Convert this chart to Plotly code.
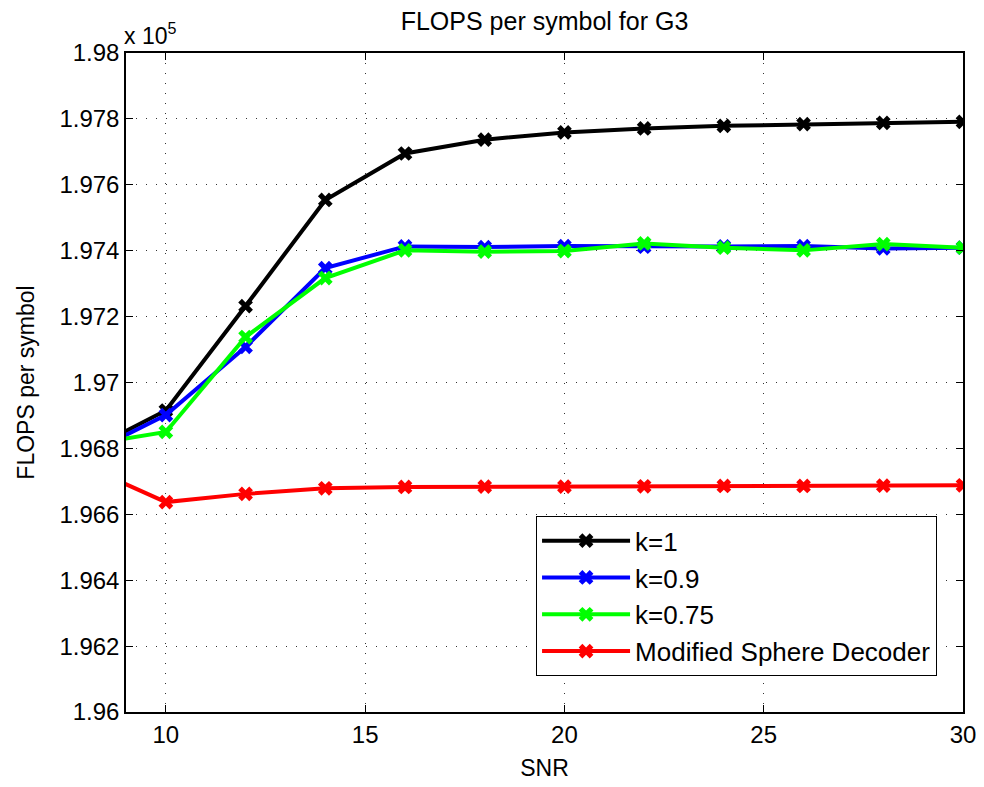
import plotly.graph_objects as go

snr = [8, 10, 12, 14, 16, 18, 20, 22, 24, 26, 28, 30]

k1 = [1.9679, 1.96915, 1.97232, 1.97554, 1.97695, 1.97737, 1.97759, 1.97771, 1.97779, 1.97784, 1.97788, 1.97791]
k09 = [1.9678, 1.96901, 1.97108, 1.97347, 1.97413, 1.97411, 1.97414, 1.97412, 1.97413, 1.97414, 1.97407, 1.97409]
k075 = [1.9681, 1.96850, 1.97138, 1.97317, 1.97401, 1.97397, 1.97399, 1.97422, 1.97409, 1.97401, 1.97420, 1.97409]
msd = [1.96745, 1.96637, 1.96662, 1.96679, 1.96683, 1.96684, 1.96684, 1.96685, 1.96686, 1.96686, 1.96687, 1.96688]

series_names = ["k=1", "k=0.9", "k=0.75", "Modified Sphere Decoder"]
series_vals = [k1, k09, k075, msd]
series_colors = ["#000000", "#0000ff", "#00ff00", "#ff0000"]

x_ticks = [10, 15, 20, 25, 30]
y_ticks = [1.96, 1.962, 1.964, 1.966, 1.968, 1.97, 1.972, 1.974, 1.976, 1.978, 1.98]
y_tick_text = ["1.96", "1.962", "1.964", "1.966", "1.968", "1.97", "1.972", "1.974", "1.976", "1.978", "1.98"]

FONT = "Liberation Sans, Arial, Helvetica, sans-serif"

fig = go.Figure()
for i, (name, vals, col) in enumerate(zip(series_names, series_vals, series_colors)):
    fig.add_trace(go.Scatter(
        x=snr, y=vals, name=name, mode="lines+markers",
        line=dict(color=col, width=4),
        marker=dict(symbol="x", size=13, color=col),
        legendgroup=f"g{i}",
        cliponaxis=True,
    ))

axis_common = dict(
    showline=True, linecolor="black", linewidth=1.5, mirror="ticks",
    ticks="inside", ticklen=7, tickcolor="black", tickwidth=1,
    showgrid=True, gridcolor="#333333", gridwidth=1, griddash="1px,9px",
    zeroline=False, automargin=False,
    tickfont=dict(family=FONT, size=24, color="black"),
)

fig.update_xaxes(
    range=[9, 30], tickvals=x_ticks, ticktext=[str(v) for v in x_ticks],
    title=dict(text="SNR", font=dict(family=FONT, size=23, color="black"), standoff=13),
    **axis_common,
)
fig.update_yaxes(
    range=[1.96, 1.98], tickvals=y_ticks, ticktext=y_tick_text,
    title=dict(text="FLOPS per symbol", font=dict(family=FONT, size=23, color="black"), standoff=18),
    **axis_common,
)

fig.update_layout(
    width=984, height=787,
    margin=dict(l=118, r=29, t=45, b=83),
    paper_bgcolor="white", plot_bgcolor="white",
    title=dict(text="FLOPS per symbol for G3", x=0.5, xref="paper", xanchor="center",
               y=1 - 13 / 787, yanchor="middle",
               font=dict(family=FONT, size=25, color="black")),
    showlegend=True,
    legend=dict(
        x=0.969, y=0.297, xanchor="right", yanchor="top",
        bgcolor="white", bordercolor="black", borderwidth=1,
        font=dict(family=FONT, size=26, color="black"),
        tracegroupgap=0, itemwidth=88,
    ),
    annotations=[dict(
        text="x 10<sup>5</sup>", xref="paper", yref="paper", x=0, y=1,
        xanchor="left", yanchor="bottom", xshift=-4, yshift=2, showarrow=False,
        font=dict(family=FONT, size=23, color="black"),
    )],
)

fig.write_html("out.html")
